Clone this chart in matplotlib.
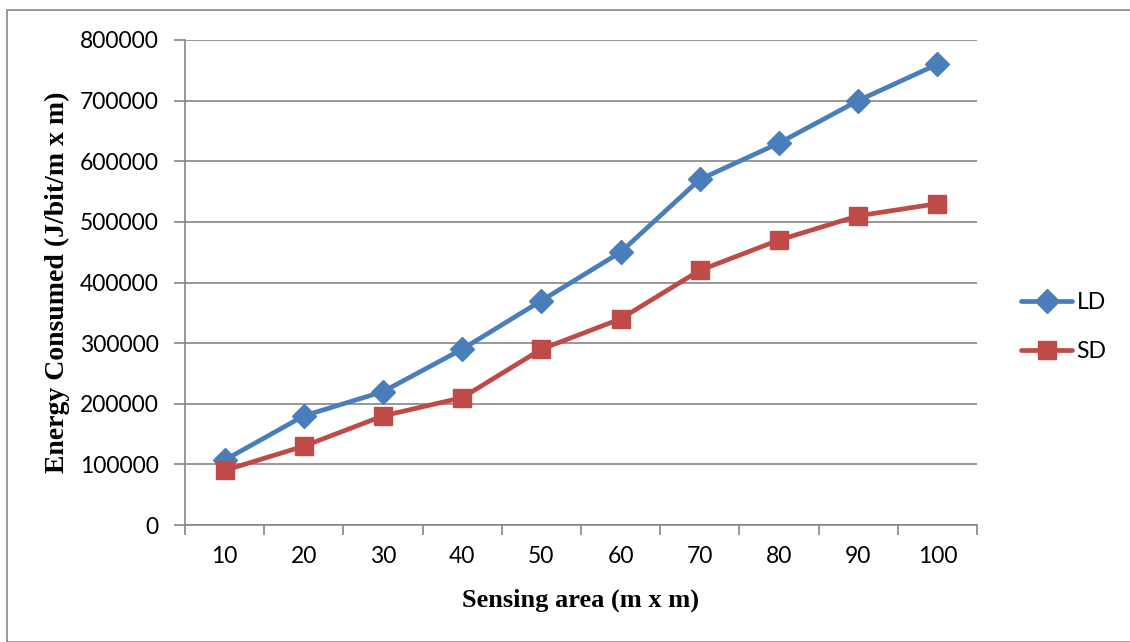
import numpy as np
import matplotlib.pyplot as plt
from matplotlib.patches import Rectangle

# data
areas = ["10", "20", "30", "40", "50", "60", "70", "80", "90", "100"]
ld_energy = [107000, 180000, 220000, 290000, 370000, 450000, 570000, 630000, 700000, 760000]
sd_energy = [90000, 130000, 180000, 210000, 290000, 340000, 420000, 470000, 510000, 530000]
y_ticks = [0, 100000, 200000, 300000, 400000, 500000, 600000, 700000, 800000]

blue = "#4a7ebb"
red = "#be4b48"
grid_col = "#868686"

fig = plt.figure(figsize=(11.3, 6.42), dpi=100)
ax = fig.add_axes([185 / 1130, 1 - 525 / 642, (977 - 185) / 1130, (525 - 40) / 642])

# outer chart border
fig.patches.append(Rectangle((7 / 1130, 0), 1.5, 1 - 10 / 642, transform=fig.transFigure,
                             fill=False, edgecolor="#878787", linewidth=1.2))

x = np.arange(len(areas))
ax.plot(x, ld_energy, color=blue, linewidth=3.4, marker="D", markersize=12,
        label="LD", solid_capstyle="round")
ax.plot(x, sd_energy, color=red, linewidth=3.4, marker="s", markersize=13.5,
        label="SD", solid_capstyle="round")

ax.set_xlim(-0.5, len(areas) - 0.5)
ax.set_ylim(0, 800000)
ax.set_yticks(y_ticks)
ax.set_yticklabels([str(v) for v in y_ticks], fontsize=16.5, family="Lato")
ax.yaxis.grid(True, color=grid_col, linewidth=1.2)
ax.set_axisbelow(True)

# ticks between categories, labels at centres
ax.set_xticks(np.arange(len(areas) + 1) - 0.5)
ax.set_xticklabels([])
ax.set_xticks(x, minor=True)
ax.set_xticklabels(areas, minor=True, fontsize=16.5, family="Lato")
ax.tick_params(axis="x", which="major", length=7, width=1.2, color=grid_col)
ax.tick_params(axis="x", which="minor", length=0, pad=15)
ax.tick_params(axis="y", length=8, width=1.2, color=grid_col, pad=11)

for side in ["top", "right"]:
    ax.spines[side].set_visible(False)
for side in ["left", "bottom"]:
    ax.spines[side].set_color(grid_col)
    ax.spines[side].set_linewidth(1.2)

ax.set_xlabel("Sensing area (m x m)", family="Liberation Serif", fontweight="bold",
              fontsize=19, labelpad=16)
ax.set_ylabel("Energy Consumed (J/bit/m x m)", family="Liberation Serif", fontweight="bold",
              fontsize=20, labelpad=7)

leg = ax.legend(loc="center left", bbox_to_anchor=(1.03, 0.408), frameon=False,
                prop={"family": "Lato", "size": 16.5}, handlelength=2.2,
                handletextpad=0.2, labelspacing=1.25)

fig.savefig("out.png", dpi=100)
